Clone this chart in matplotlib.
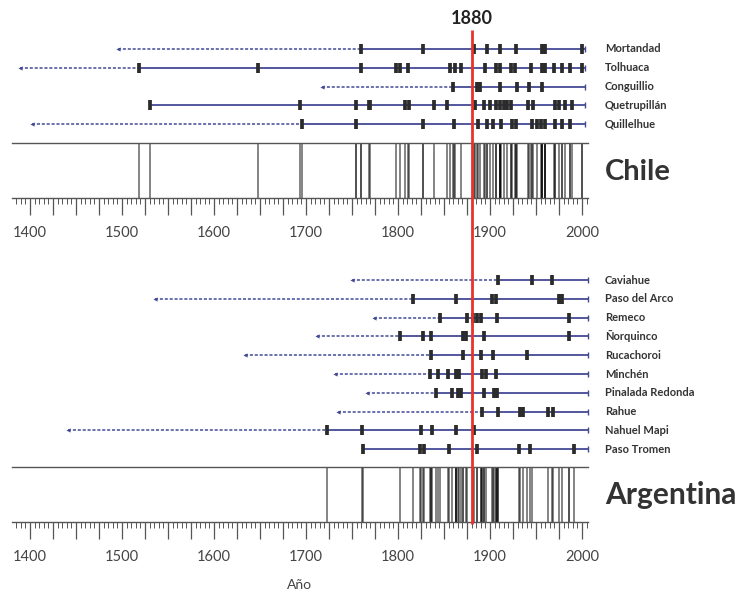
import numpy as np
import matplotlib.pyplot as plt
from matplotlib.ticker import MultipleLocator, FuncFormatter

plt.rcParams['font.family'] = ['Lato', 'DejaVu Sans']

# datos de cicatrices de fuego por sitio (años)
chile_sitios = ['Mortandad', 'Tolhuaca', 'Conguillio', 'Quetrupillán', 'Quillelhue']
chile_inicio = [1496, 1389, 1717, None, 1402]   # fecha mas antigua (flecha punteada)
chile_fin = 2003
chile_eventos = [
    [1760, 1827, 1883, 1897, 1911, 1928, 1956, 1960, 2000],
    [1518, 1648, 1760, 1798, 1802, 1811, 1857, 1862, 1868, 1895, 1907, 1911,
     1923, 1927, 1945, 1956, 1960, 1970, 1978, 1987, 2000],
    [1860, 1886, 1889, 1911, 1929, 1942, 1956],
    [1530, 1693, 1754, 1768, 1770, 1808, 1812, 1839, 1853, 1884, 1894, 1900,
     1906, 1911, 1915, 1919, 1923, 1941, 1947, 1971, 1975, 1982, 1989],
    [1696, 1754, 1827, 1861, 1887, 1897, 1903, 1912, 1924, 1928, 1946, 1951,
     1955, 1960, 1971, 1978, 1987],
]

arg_sitios = ['Caviahue', 'Paso del Arco', 'Remeco', 'Ñorquinco', 'Rucachoroi',
              'Minchén', 'Pinalada Redonda', 'Rahue', 'Nahuel Mapi', 'Paso Tromen']
arg_inicio = [1750, 1536, 1774, 1712, 1634, 1732, 1766, 1735, 1441, None]
arg_fin = 2006
arg_eventos = [
    [1909, 1946, 1967],
    [1816, 1863, 1902, 1907, 1975, 1978],
    [1846, 1875, 1882, 1886, 1890, 1908, 1986],
    [1802, 1827, 1836, 1871, 1874, 1893, 1986],
    [1836, 1871, 1890, 1903, 1940],
    [1835, 1843, 1854, 1863, 1866, 1891, 1896, 1907],
    [1841, 1859, 1865, 1869, 1894, 1904, 1908],
    [1891, 1909, 1933, 1936, 1963, 1968],
    [1723, 1761, 1825, 1837, 1863, 1883],
    [1762, 1824, 1828, 1855, 1886, 1931, 1944, 1991],
]

anio_ref = 1880

W, H = 743, 595
azul = '#434a94'
gris = '#333333'

# escala: x_px = 30 + (anio - 1400) * 0.92
def px2anio(px):
    return 1400 + (px - 30) / 0.92

fig = plt.figure(figsize=(W / 100, H / 100), dpi=100)


def compuesto(top_px, bot_px, eventos):
    ax = fig.add_axes([12 / W, 1 - bot_px / H,
                       (588 - 12) / W, (bot_px - top_px) / H])
    ax.set_xlim(px2anio(12), px2anio(588))
    ax.set_ylim(0, 1)
    todos = np.concatenate([np.array(e) for e in eventos])
    anios, cuenta = np.unique(todos, return_counts=True)
    colores = [(0, 0, 0, min(1.0, 0.3 + 0.22 * c)) for c in cuenta]
    ax.vlines(anios, 0, 1, colors=colores, lw=1.3)
    for s in ['left', 'right']:
        ax.spines[s].set_visible(False)
    for s in ['top', 'bottom']:
        ax.spines[s].set_color('#555555')
        ax.spines[s].set_linewidth(1.0)
    ax.set_yticks([])
    ax.xaxis.set_major_locator(MultipleLocator(25))
    ax.xaxis.set_minor_locator(MultipleLocator(5))
    ax.xaxis.set_major_formatter(FuncFormatter(
        lambda v, p: '%d' % v if round(v) % 100 == 0 else ''))
    ax.tick_params(axis='x', which='major', length=12, width=0.9, color='#555555',
                   labelsize=10.5, labelcolor='#444444', pad=8)
    ax.tick_params(axis='x', which='minor', length=4, width=0.7, color='#555555')
    ax.patch.set_alpha(0)
    return ax


compuesto(143, 198, chile_eventos)
compuesto(467, 522, arg_eventos)

ax = fig.add_axes([0, 0, 1, 1])
ax.set_xlim(px2anio(0), px2anio(W))
ax.set_ylim(H, 0)
ax.axis('off')
ax.patch.set_alpha(0)


def filas(y0, dy, sitios, inicio, eventos, fin):
    for i, nombre in enumerate(sitios):
        y = y0 + i * dy
        ev = eventos[i]
        arranque = min(ev)
        if inicio[i] is not None:
            ax.plot([inicio[i], arranque], [y, y], color=azul, lw=1.1,
                    ls=(0, (2, 1.2)))
            ax.plot([inicio[i]], [y], marker='<', ms=3, color=azul, mew=0)
        ax.plot([arranque, fin], [y, y], color=azul, lw=1.3)
        ax.vlines([fin], y - 3, y + 3, colors=azul, lw=1.0)
        ax.vlines(ev, y - 5, y + 5, colors='#2b2b2b', lw=2.7)
        ax.text(px2anio(605), y, nombre, fontsize=8, fontweight='bold',
                color=gris, va='center', ha='left')


filas(49, 18.8, chile_sitios, chile_inicio, chile_eventos, chile_fin)
filas(280, 18.8, arg_sitios, arg_inicio, arg_eventos, arg_fin)

ax.vlines([anio_ref], 30, 524, colors='#e8322b', lw=2.0, zorder=10)
ax.text(anio_ref, 18, str(anio_ref), fontsize=13, fontweight='bold',
        color='#222222', ha='center', va='center')
ax.text(px2anio(605), 172, 'Chile', fontsize=21, fontweight='bold',
        color=gris, ha='left', va='center')
ax.text(px2anio(605), 495, 'Argentina', fontsize=21.5, fontweight='bold',
        color=gris, ha='left', va='center')
ax.text(px2anio(300), 585, 'Año', fontsize=10, color='#444444',
        ha='center', va='center')

fig.savefig('out.png', dpi=100)
